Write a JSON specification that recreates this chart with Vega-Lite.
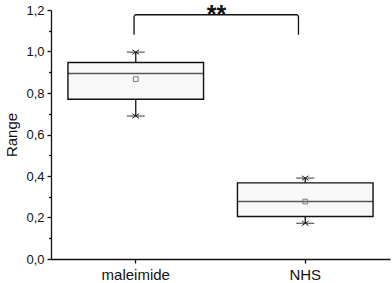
{
  "$schema": "https://vega.github.io/schema/vega-lite/v6.json",
  "width": 339,
  "height": 249,
  "autosize": {"type": "none"},
  "padding": {"left": 51, "top": 10, "right": 2, "bottom": 24},
  "background": "white",
  "config": {
    "view": {"stroke": null},
    "font": "Liberation Sans",
    "axis": {"grid": false, "domainColor": "#111", "tickColor": "#111", "labelColor": "#111", "titleColor": "#111", "domainWidth": 1.3, "tickWidth": 1.3, "labelFont": "Liberation Sans", "titleFont": "Liberation Sans"}
  },
  "datasets": {
    "boxes": [
      {"group": "maleimide", "lo": 0.689, "q1": 0.770, "med": 0.894, "q3": 0.947, "hi": 0.997, "mean": 0.867},
      {"group": "NHS", "lo": 0.172, "q1": 0.205, "med": 0.277, "q3": 0.367, "hi": 0.390, "mean": 0.277}
    ],
    "bracket": [
      {"pos": -0.01, "v": 1.081, "k": 1},
      {"pos": -0.01, "v": 1.168, "k": 2},
      {"pos": 0.0, "v": 1.177, "k": 3},
      {"pos": 0.95, "v": 1.177, "k": 4},
      {"pos": 0.96, "v": 1.168, "k": 5},
      {"pos": 0.96, "v": 1.081, "k": 6}
    ],
    "sig": [{"pos": 0.477, "v": 1.136, "label": "**"}]
  },
  "layer": [
    {
      "data": {"name": "boxes"},
      "encoding": {
        "x": {"field": "group", "type": "nominal", "sort": ["maleimide", "NHS"],
              "scale": {"type": "band", "paddingInner": 0.2, "paddingOuter": 0.1},
              "axis": {"title": null, "labelAngle": 0, "labelFontSize": 15, "tickSize": 4, "labelPadding": 4}}
      },
      "layer": [
        {
          "mark": {"type": "rule", "color": "#111", "strokeWidth": 1.3},
          "encoding": {
            "y": {"field": "lo", "type": "quantitative", "scale": {"domain": [0, 1.2], "nice": false, "zero": false},
                  "axis": {"title": "Range", "titleFontSize": 15, "titleFontWeight": "normal", "labelFontSize": 13, "values": [0, 0.2, 0.4, 0.6, 0.8, 1.0, 1.2], "labelExpr": "replace(format(datum.value, '.1f'), '.', ',')", "tickSize": 4, "labelPadding": 3, "titlePadding": 6}},
            "y2": {"field": "hi"}
          }
        },
        {
          "mark": {"type": "bar", "fill": "#f8f8f8", "stroke": "#111", "strokeWidth": 1.4},
          "encoding": {
            "y": {"field": "q1", "type": "quantitative"},
            "y2": {"field": "q3"}
          }
        },
        {
          "mark": {"type": "tick", "color": "#111", "size": 135.6, "thickness": 1.4},
          "encoding": {"y": {"field": "med", "type": "quantitative"}}
        },
        {
          "mark": {"type": "tick", "color": "#111", "size": 18, "thickness": 1.2},
          "encoding": {"y": {"field": "hi", "type": "quantitative"}}
        },
        {
          "mark": {"type": "tick", "color": "#111", "size": 18, "thickness": 1.2},
          "encoding": {"y": {"field": "lo", "type": "quantitative"}}
        },
        {
          "mark": {"type": "point", "shape": "M-1,-0.7L1,0.7M-1,0.7L1,-0.7", "size": 45, "filled": false, "stroke": "#222", "strokeWidth": 1, "opacity": 1},
          "encoding": {"y": {"field": "hi", "type": "quantitative"}}
        },
        {
          "mark": {"type": "point", "shape": "M-1,-0.7L1,0.7M-1,0.7L1,-0.7", "size": 45, "filled": false, "stroke": "#222", "strokeWidth": 1, "opacity": 1},
          "encoding": {"y": {"field": "lo", "type": "quantitative"}}
        },
        {
          "mark": {"type": "point", "shape": "square", "size": 22, "filled": false, "stroke": "#777", "strokeWidth": 1, "opacity": 1},
          "encoding": {"y": {"field": "mean", "type": "quantitative"}}
        }
      ]
    },
    {
      "encoding": {
        "x": {"field": "pos", "type": "quantitative", "scale": {"domain": [-0.5, 1.5], "nice": false, "zero": false}, "axis": null}
      },
      "layer": [
        {
          "data": {"name": "bracket"},
          "mark": {"type": "line", "color": "#111", "strokeWidth": 1.3, "clip": false, "interpolate": "monotone"},
          "encoding": {
            "y": {"field": "v", "type": "quantitative", "scale": {"domain": [0, 1.2], "nice": false, "zero": false},
                  "axis": {"orient": "left", "title": null, "labels": false, "domain": false, "tickSize": 2.5, "values": [0.1, 0.3, 0.5, 0.7, 0.9, 1.1]}},
            "order": {"field": "k", "type": "quantitative"}
          }
        },
        {
          "data": {"name": "sig"},
          "mark": {"type": "text", "fontSize": 25, "fontWeight": "bold", "color": "#111", "align": "center", "baseline": "alphabetic"},
          "encoding": {
            "y": {"field": "v", "type": "quantitative"},
            "text": {"field": "label"}
          }
        }
      ]
    }
  ],
  "resolve": {"scale": {"x": "independent", "y": "independent"}}
}
